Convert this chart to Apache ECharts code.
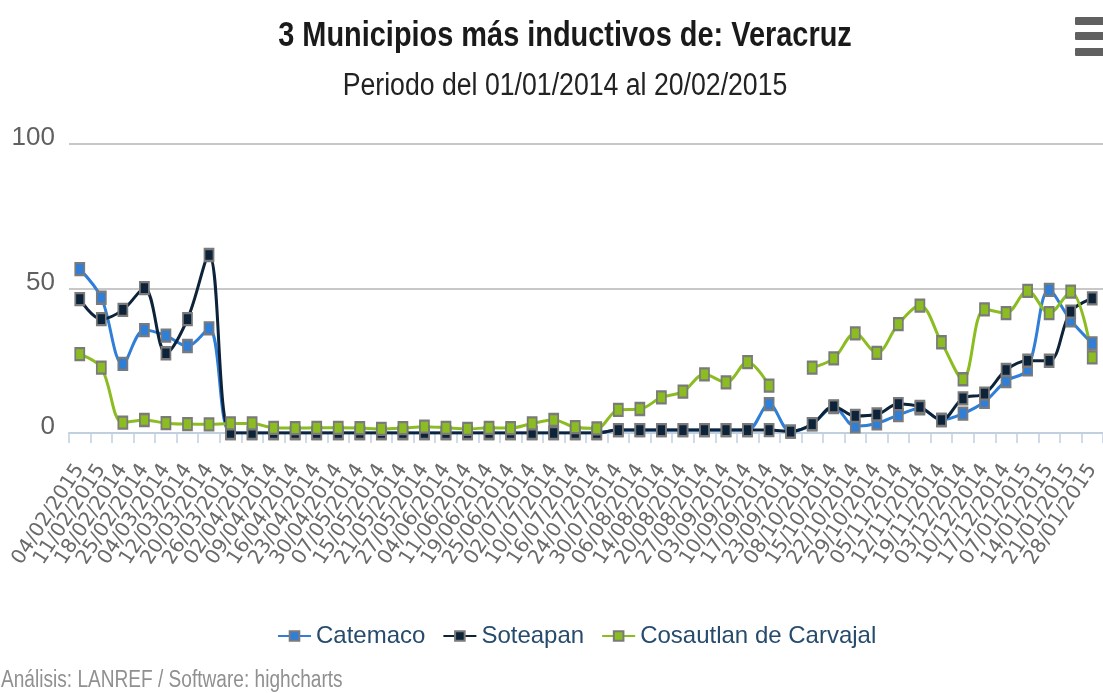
<!DOCTYPE html>
<html>
<head>
<meta charset="utf-8">
<script src="https://cdn.jsdelivr.net/npm/echarts@6/dist/echarts.min.js"></script>
<style>
html,body{margin:0;padding:0;background:#fff;}
#chart{width:1103px;height:693px;}
</style>
</head>
<body>
<div id="chart"></div>
<script>
const categories = ['04/02/2015','11/02/2015','18/02/2014','25/02/2014','04/03/2014','12/03/2014','20/03/2014','26/03/2014','02/04/2014','09/04/2014','16/04/2014','23/04/2014','30/04/2014','07/05/2014','15/05/2014','21/05/2014','27/05/2014','04/06/2014','11/06/2014','19/06/2014','25/06/2014','02/07/2014','10/07/2014','16/07/2014','24/07/2014','30/07/2014','06/08/2014','14/08/2014','20/08/2014','27/08/2014','03/09/2014','10/09/2014','17/09/2014','23/09/2014','08/10/2014','15/10/2014','22/10/2014','29/10/2014','05/11/2014','12/11/2014','19/11/2014','03/12/2014','10/12/2014','17/12/2014','07/01/2015','14/01/2015','21/01/2015','28/01/2015'];

const catemaco = [56.7,46.8,23.9,35.6,33.7,30.1,36.2,
  0,0,0,0,0,0,0,0,0,0,0,0,0,0,0,0,0,0,
  1,1,1,1,1,1,1,
  10,0.5,3,9,2.3,3.3,6.2,8.5,4.5,6.7,10.8,18,22,49.5,39,31];

const soteapan = [46.3,39.4,42.6,50.1,27.6,39.4,61.6,
  0,0,0,0,0,0,0,0,0,0,0,0,0,0,0,0,0,0,
  1,1,1,1,1,1,1,1,0.5,
  3.1,9.2,5.9,6.4,10,9,4.5,12,13.6,21.8,25,25,42,46.6];

const cosautlan = [27.3,22.6,3.6,4.5,3.4,3.1,3.0,
  3.3,3.3,1.8,1.7,1.8,1.8,1.7,1.4,1.7,2.2,1.8,1.4,1.8,1.7,3.3,4.5,2.0,1.6,
  8.0,8.3,12.3,14.3,20.3,17.5,24.5,16.4,null,
  22.6,25.8,34.5,27.7,37.7,44.1,31.4,18.6,42.8,41.5,49.2,41.5,48.9,26.2];

const yTicks = [0, 50, 100];

const titleText = '3 Municipios más inductivos de: Veracruz';
const subtitleText = 'Periodo del 01/01/2014 al 20/02/2015';
const creditsText = 'Análisis: LANREF / Software: highcharts';

const FONT = "'Liberation Sans', Arial, sans-serif";

const chart = echarts.init(document.getElementById('chart'));

function mk(name, data, color) {
  return {
    name: name,
    type: 'line',
    data: data,
    smooth: 0.35,
    symbol: 'rect',
    symbolSize: [9, 12],
    showSymbol: true,
    connectNulls: false,
    lineStyle: { color: color, width: 3 },
    itemStyle: { color: color, borderColor: '#7a7a7a', borderWidth: 2 },
    emphasis: { disabled: true },
    animation: false
  };
}

chart.setOption({
  animation: false,
  backgroundColor: '#ffffff',
  legend: {
    bottom: 40,
    left: 272,
    itemWidth: 33,
    itemHeight: 12,
    itemGap: 17,
    textStyle: { fontFamily: FONT, fontSize: 24, color: '#274b6d' },
    data: ['Catemaco', 'Soteapan', 'Cosautlan de Carvajal']
  },
  grid: { left: 69, top: 144, width: 1040, height: 289, containLabel: false },
  xAxis: {
    type: 'category',
    data: categories,
    boundaryGap: true,
    axisLine: { lineStyle: { color: '#C0D0E0', width: 2 } },
    axisTick: { show: true, length: 10, lineStyle: { color: '#C0D0E0', width: 1.5 }, alignWithLabel: false },
    axisLabel: { interval: 0, rotate: 57, margin: 33, fontSize: 20, fontFamily: 'DejaVu Sans', color: '#6a6a6a' },
    splitLine: { show: false }
  },
  yAxis: {
    type: 'value',
    min: 0, max: 100, interval: 50,
    axisLine: { show: false },
    axisTick: { show: false },
    axisLabel: {
      margin: 14, fontSize: 26, fontFamily: FONT, color: '#606060',
      verticalAlign: 'bottom', lineHeight: 12,
      formatter: function (v) { return yTicks.indexOf(v) >= 0 ? String(v) : ''; }
    },
    splitLine: { lineStyle: { color: '#C8C8C8', width: 2 } }
  },
  graphic: [
    { type: 'text', x: 565, y: 36, scaleX: 0.826, silent: true,
      style: { text: titleText, font: "bold 35px 'Liberation Sans', Arial, sans-serif", fill: '#1a1a1a', align: 'center', verticalAlign: 'middle' } },
    { type: 'text', x: 565, y: 86, scaleX: 0.86, silent: true,
      style: { text: subtitleText, font: "31px 'Liberation Sans', Arial, sans-serif", fill: '#222', align: 'center', verticalAlign: 'middle' } },
    { type: 'text', x: 1, y: 681, scaleX: 0.83, silent: true,
      style: { text: creditsText, font: "23px 'Liberation Sans', Arial, sans-serif", fill: '#909090', align: 'left', verticalAlign: 'middle' } },
    { type: 'rect', shape: { x: 1075, y: 17, width: 30, height: 8, r: 1 }, style: { fill: '#606060' } },
    { type: 'rect', shape: { x: 1075, y: 32, width: 30, height: 8, r: 1 }, style: { fill: '#606060' } },
    { type: 'rect', shape: { x: 1075, y: 48, width: 30, height: 8, r: 1 }, style: { fill: '#606060' } }
  ],
  series: [
    mk('Catemaco', catemaco, '#2f7ed8'),
    mk('Soteapan', soteapan, '#0d233a'),
    mk('Cosautlan de Carvajal', cosautlan, '#8bbc21')
  ]
});
</script>
</body>
</html>
